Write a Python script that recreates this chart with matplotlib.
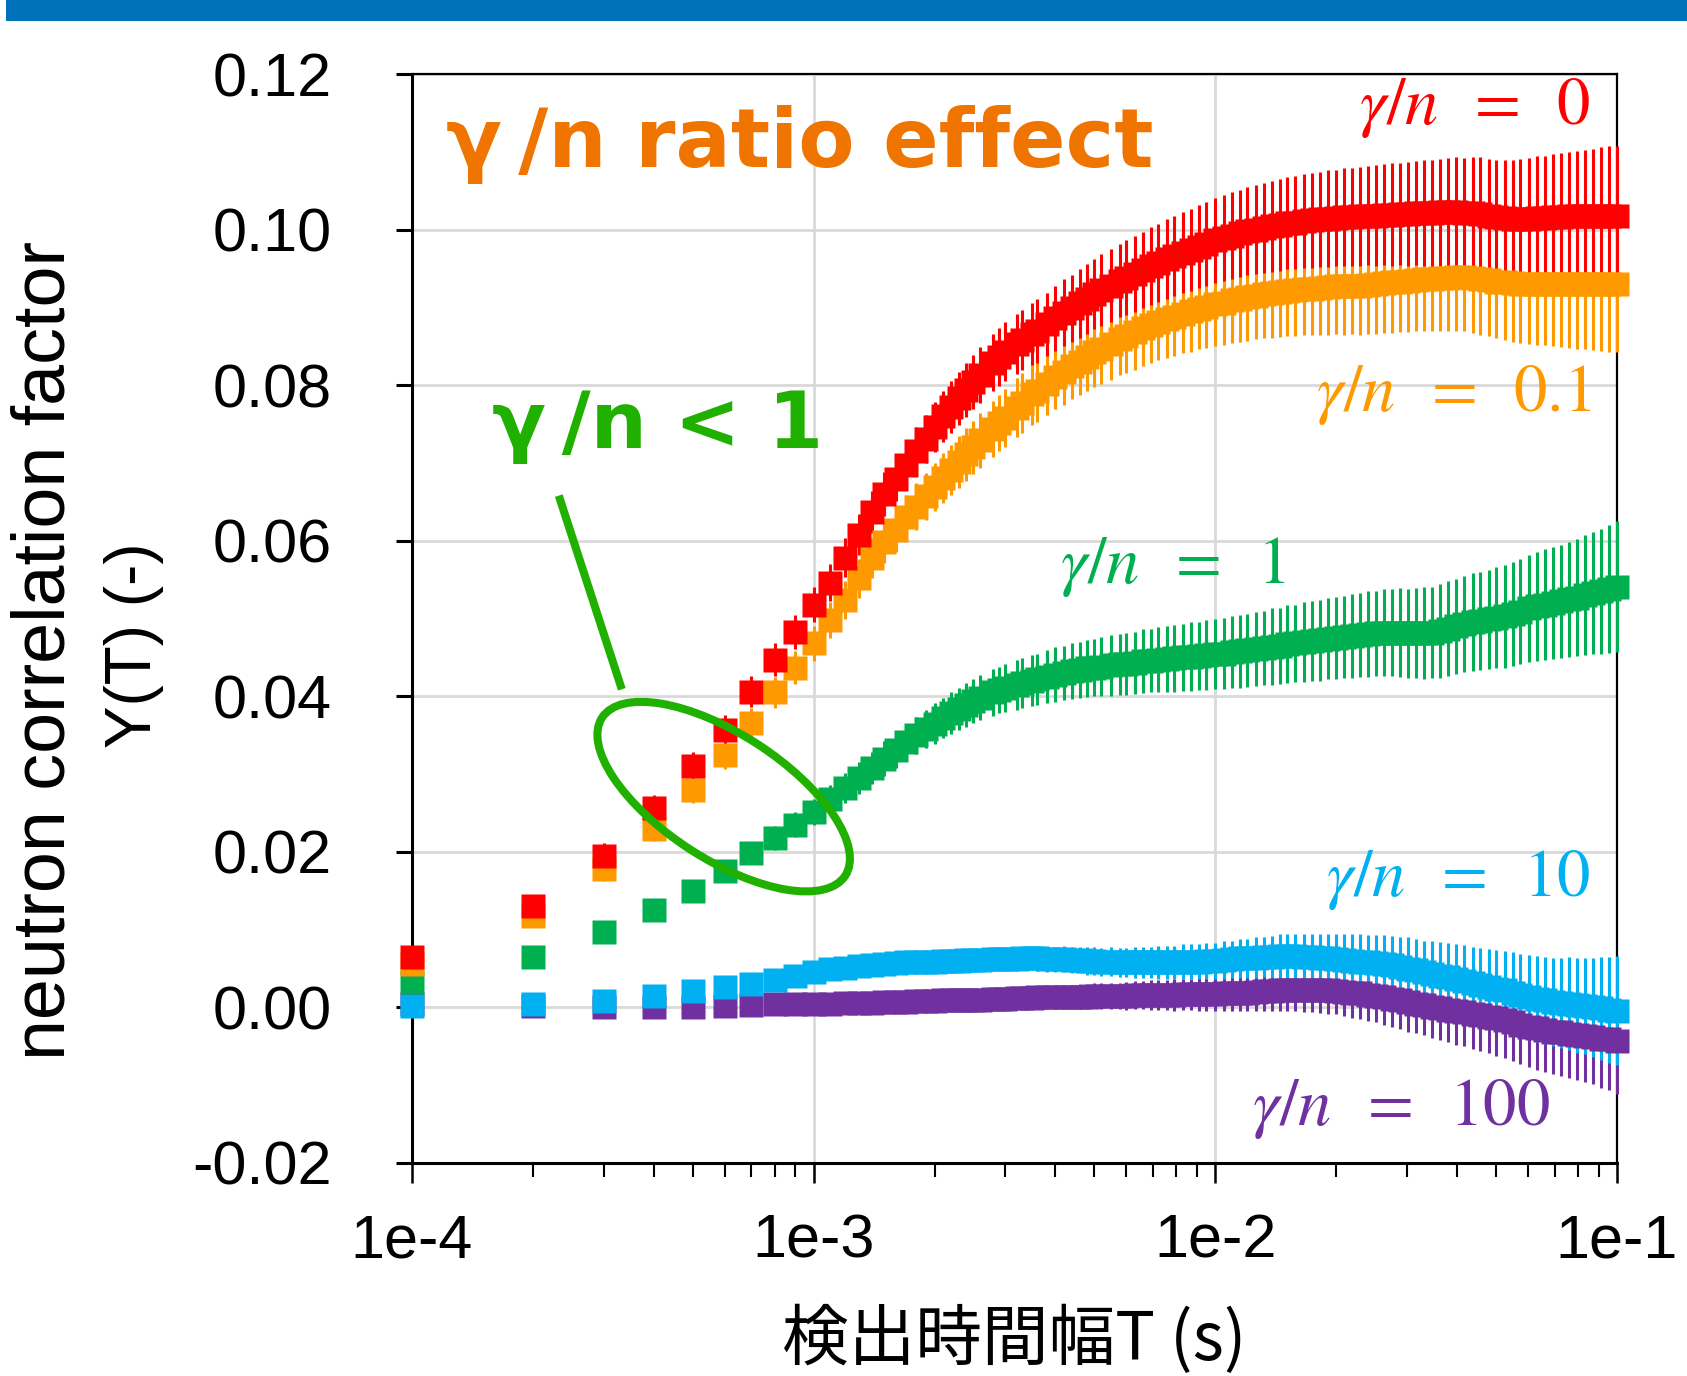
import matplotlib
matplotlib.use("Agg")
import matplotlib.pyplot as plt
from matplotlib.patches import Ellipse, Rectangle
from matplotlib.transforms import ScaledTranslation
from matplotlib.ticker import FixedLocator, LogLocator, NullFormatter

# Detection time width T in ms (converted to s below)
t_ms = [0.1, 0.2, 0.3, 0.4, 0.5, 0.6, 0.7, 0.8, 0.9, 1.0,
        1.1, 1.2, 1.3, 1.4, 1.5, 1.6, 1.7, 1.8, 1.9, 2.0,
        2.1, 2.2, 2.3, 2.4, 2.5, 2.6,
        2.8, 2.9, 3.0, 3.2, 3.3, 3.5, 3.6, 3.8, 4.0,
        4.2, 4.4, 4.6, 4.8, 5.0, 5.2, 5.5, 5.8, 6.0,
        6.3, 6.6, 6.9, 7.2, 7.6, 7.9, 8.3, 8.7, 9.1, 9.5,
        10.0, 10.5, 11.0, 11.5, 12.0, 12.6, 13.2, 13.8, 14.5, 15.1, 15.8, 16.6, 17.4, 18.2, 19.1,
        20.0, 20.9, 21.9, 22.9, 24.0, 25.1, 26.3, 27.5, 28.8, 30.2, 31.6, 33.1, 34.7, 36.3, 38.0,
        39.8, 41.7, 43.7, 45.7, 47.9, 50.1, 52.5, 55.0, 57.5, 60.3, 63.1, 66.1, 69.2, 72.4, 75.9,
        79.4, 83.2, 87.1, 91.2, 95.5, 100.0]

# gamma/n = 0
y_0 = [0.0065, 0.0131, 0.0195, 0.0256, 0.0310, 0.0357, 0.0406, 0.0447, 0.0483, 0.0518,
       0.0546, 0.0578, 0.0608, 0.0637, 0.0660, 0.0680, 0.0698, 0.0715, 0.0731, 0.0746,
       0.0760, 0.0772, 0.0783, 0.0794, 0.0804, 0.0813,
       0.0829, 0.0836, 0.0843, 0.0853, 0.0858, 0.0866, 0.0870, 0.0878, 0.0886,
       0.0893, 0.0899, 0.0905, 0.0911, 0.0917, 0.0922, 0.0928, 0.0934, 0.0938,
       0.0943, 0.0948, 0.0953, 0.0957, 0.0962, 0.0966, 0.0970, 0.0974, 0.0978, 0.0982,
       0.0986, 0.0989, 0.0992, 0.0995, 0.0998, 0.1000, 0.1002, 0.1004, 0.1006, 0.1008, 0.1009, 0.1011, 0.1012, 0.1013, 0.1014,
       0.1015, 0.1016, 0.1016, 0.1017, 0.1018, 0.1018, 0.1019, 0.1019, 0.1020, 0.1020, 0.1021, 0.1021, 0.1021, 0.1022, 0.1022,
       0.1022, 0.1021, 0.1021, 0.1020, 0.1018, 0.1016, 0.1015, 0.1014, 0.1014, 0.1014, 0.1015, 0.1015, 0.1016, 0.1016, 0.1017,
       0.1017, 0.1017, 0.1018, 0.1018, 0.1018, 0.1018]
e_0 = [0.0010, 0.0013, 0.0016, 0.0017, 0.0018, 0.0019, 0.0020, 0.0021, 0.0022, 0.0023,
       0.0024, 0.0025, 0.0026, 0.0027, 0.0028, 0.0029, 0.0030, 0.0031, 0.0031, 0.0032,
       0.0033, 0.0033, 0.0034, 0.0035, 0.0035, 0.0036,
       0.0037, 0.0037, 0.0038, 0.0039, 0.0039, 0.0040, 0.0041, 0.0041, 0.0042,
       0.0043, 0.0043, 0.0044, 0.0045, 0.0045, 0.0046, 0.0047, 0.0047, 0.0048,
       0.0049, 0.0049, 0.0050, 0.0050, 0.0051, 0.0052, 0.0052, 0.0053, 0.0053, 0.0054,
       0.0055, 0.0055, 0.0056, 0.0056, 0.0057, 0.0057, 0.0058, 0.0058, 0.0059, 0.0059, 0.0060, 0.0060, 0.0061, 0.0061, 0.0062,
       0.0062, 0.0063, 0.0063, 0.0064, 0.0064, 0.0065, 0.0065, 0.0066, 0.0066, 0.0067, 0.0067, 0.0068, 0.0069, 0.0069, 0.0070,
       0.0071, 0.0071, 0.0072, 0.0073, 0.0073, 0.0074, 0.0075, 0.0076, 0.0077, 0.0078, 0.0079, 0.0080, 0.0081, 0.0082, 0.0083,
       0.0084, 0.0085, 0.0086, 0.0088, 0.0089, 0.0090]

# gamma/n = 0.1
y_01 = [0.0056, 0.0117, 0.0178, 0.0230, 0.0280, 0.0325, 0.0366, 0.0405, 0.0437, 0.0468,
        0.0498, 0.0524, 0.0552, 0.0578, 0.0598, 0.0614, 0.0630, 0.0644, 0.0657, 0.0669,
        0.0681, 0.0691, 0.0701, 0.0711, 0.0720, 0.0729,
        0.0744, 0.0751, 0.0758, 0.0771, 0.0777, 0.0788, 0.0793, 0.0802, 0.0810,
        0.0817, 0.0824, 0.0830, 0.0836, 0.0842, 0.0847, 0.0853, 0.0859, 0.0863,
        0.0868, 0.0873, 0.0877, 0.0881, 0.0885, 0.0888, 0.0892, 0.0895, 0.0898, 0.0901,
        0.0904, 0.0906, 0.0909, 0.0911, 0.0913, 0.0915, 0.0917, 0.0918, 0.0920, 0.0921, 0.0922, 0.0923, 0.0924, 0.0925, 0.0926,
        0.0927, 0.0927, 0.0928, 0.0928, 0.0929, 0.0930, 0.0931, 0.0932, 0.0933, 0.0934, 0.0935, 0.0936, 0.0937, 0.0938, 0.0938,
        0.0939, 0.0939, 0.0938, 0.0937, 0.0935, 0.0933, 0.0932, 0.0931, 0.0930, 0.0930, 0.0930, 0.0930, 0.0930, 0.0930, 0.0930,
        0.0930, 0.0930, 0.0930, 0.0930, 0.0930, 0.0930]
e_01 = [0.0009, 0.0012, 0.0015, 0.0016, 0.0017, 0.0018, 0.0019, 0.0020, 0.0021, 0.0022,
        0.0023, 0.0024, 0.0025, 0.0026, 0.0027, 0.0028, 0.0029, 0.0030, 0.0030, 0.0031,
        0.0032, 0.0032, 0.0033, 0.0034, 0.0034, 0.0035,
        0.0036, 0.0036, 0.0037, 0.0038, 0.0038, 0.0039, 0.0040, 0.0040, 0.0041,
        0.0042, 0.0042, 0.0043, 0.0044, 0.0044, 0.0045, 0.0046, 0.0046, 0.0047,
        0.0048, 0.0048, 0.0049, 0.0049, 0.0050, 0.0051, 0.0051, 0.0052, 0.0052, 0.0053,
        0.0054, 0.0054, 0.0055, 0.0055, 0.0056, 0.0056, 0.0057, 0.0057, 0.0058, 0.0058, 0.0059, 0.0059, 0.0060, 0.0060, 0.0061,
        0.0061, 0.0062, 0.0062, 0.0063, 0.0063, 0.0064, 0.0064, 0.0065, 0.0065, 0.0066, 0.0066, 0.0067, 0.0068, 0.0068, 0.0069,
        0.0070, 0.0070, 0.0071, 0.0072, 0.0072, 0.0073, 0.0074, 0.0075, 0.0076, 0.0077, 0.0078, 0.0079, 0.0080, 0.0081, 0.0082,
        0.0083, 0.0084, 0.0085, 0.0086, 0.0087, 0.0088]

# gamma/n = 1
y_1 = [0.0033, 0.0065, 0.0097, 0.0125, 0.0150, 0.0175, 0.0198, 0.0218, 0.0235, 0.0251,
       0.0268, 0.0282, 0.0295, 0.0308, 0.0320, 0.0331, 0.0341, 0.0350, 0.0358, 0.0365,
       0.0372, 0.0378, 0.0384, 0.0389, 0.0394, 0.0398,
       0.0405, 0.0408, 0.0411, 0.0415, 0.0417, 0.0420, 0.0422, 0.0425, 0.0428,
       0.0430, 0.0432, 0.0434, 0.0436, 0.0437, 0.0438, 0.0440, 0.0441, 0.0442,
       0.0443, 0.0445, 0.0446, 0.0447, 0.0448, 0.0449, 0.0450, 0.0451, 0.0452, 0.0453,
       0.0454, 0.0455, 0.0457, 0.0458, 0.0459, 0.0461, 0.0462, 0.0464, 0.0465, 0.0467, 0.0468, 0.0470, 0.0471, 0.0472, 0.0474,
       0.0475, 0.0476, 0.0478, 0.0479, 0.0480, 0.0481, 0.0482, 0.0482, 0.0482, 0.0481, 0.0481, 0.0481, 0.0482, 0.0484, 0.0487,
       0.0490, 0.0493, 0.0495, 0.0497, 0.0499, 0.0501, 0.0503, 0.0506, 0.0509, 0.0513, 0.0516, 0.0518, 0.0520, 0.0522, 0.0525,
       0.0527, 0.0530, 0.0533, 0.0535, 0.0538, 0.0541]
e_1 = [0.0008, 0.0009, 0.0010, 0.0011, 0.0012, 0.0013, 0.0014, 0.0015, 0.0016, 0.0017,
       0.0018, 0.0019, 0.0020, 0.0021, 0.0022, 0.0023, 0.0024, 0.0024, 0.0025, 0.0026,
       0.0026, 0.0027, 0.0027, 0.0028, 0.0028, 0.0029,
       0.0030, 0.0030, 0.0031, 0.0032, 0.0032, 0.0033, 0.0033, 0.0034, 0.0035,
       0.0035, 0.0036, 0.0036, 0.0037, 0.0037, 0.0038, 0.0039, 0.0039, 0.0040,
       0.0040, 0.0041, 0.0041, 0.0042, 0.0042, 0.0043, 0.0043, 0.0044, 0.0044, 0.0045,
       0.0045, 0.0046, 0.0046, 0.0047, 0.0047, 0.0048, 0.0048, 0.0049, 0.0049, 0.0050, 0.0050, 0.0051, 0.0051, 0.0052, 0.0052,
       0.0053, 0.0053, 0.0054, 0.0054, 0.0055, 0.0055, 0.0056, 0.0056, 0.0057, 0.0057, 0.0058, 0.0059, 0.0059, 0.0060, 0.0061,
       0.0061, 0.0062, 0.0063, 0.0063, 0.0064, 0.0065, 0.0066, 0.0067, 0.0068, 0.0069, 0.0070, 0.0071, 0.0072, 0.0073, 0.0074,
       0.0075, 0.0077, 0.0078, 0.0080, 0.0082, 0.0084]

# gamma/n = 10
y_10 = [0.0002, 0.0004, 0.0008, 0.0015, 0.0021, 0.0026, 0.0030, 0.0035, 0.0041, 0.0046,
        0.0049, 0.0051, 0.0053, 0.0055, 0.0056, 0.0057, 0.0058, 0.0058, 0.0059, 0.0059,
        0.0060, 0.0060, 0.0060, 0.0061, 0.0061, 0.0061,
        0.0062, 0.0062, 0.0062, 0.0062, 0.0063, 0.0063, 0.0063, 0.0062, 0.0062,
        0.0062, 0.0061, 0.0061, 0.0060, 0.0060, 0.0059, 0.0059, 0.0058, 0.0058,
        0.0058, 0.0058, 0.0058, 0.0058, 0.0058, 0.0058, 0.0059, 0.0059, 0.0059, 0.0060,
        0.0060, 0.0061, 0.0062, 0.0063, 0.0063, 0.0064, 0.0065, 0.0065, 0.0066, 0.0066, 0.0066, 0.0065, 0.0065, 0.0064, 0.0063,
        0.0062, 0.0061, 0.0060, 0.0059, 0.0058, 0.0057, 0.0056, 0.0054, 0.0052, 0.0050, 0.0048, 0.0045, 0.0043, 0.0041, 0.0039,
        0.0036, 0.0034, 0.0031, 0.0029, 0.0026, 0.0024, 0.0022, 0.0019, 0.0016, 0.0013, 0.0011, 0.0009, 0.0007, 0.0006, 0.0005,
        0.0003, 0.0002, 0.0000, -0.0001, -0.0003, -0.0004]
e_10 = [0.0003, 0.0003, 0.0004, 0.0004, 0.0005, 0.0005, 0.0006, 0.0006, 0.0007, 0.0007,
        0.0008, 0.0008, 0.0009, 0.0009, 0.0010, 0.0010, 0.0010, 0.0011, 0.0011, 0.0011,
        0.0012, 0.0012, 0.0012, 0.0013, 0.0013, 0.0013,
        0.0014, 0.0014, 0.0014, 0.0015, 0.0015, 0.0015, 0.0016, 0.0016, 0.0016,
        0.0017, 0.0017, 0.0017, 0.0018, 0.0018, 0.0018, 0.0019, 0.0019, 0.0019,
        0.0020, 0.0020, 0.0020, 0.0021, 0.0021, 0.0021, 0.0022, 0.0022, 0.0022, 0.0023,
        0.0023, 0.0024, 0.0024, 0.0025, 0.0025, 0.0026, 0.0026, 0.0027, 0.0028, 0.0028, 0.0029, 0.0030, 0.0030, 0.0031, 0.0032,
        0.0032, 0.0033, 0.0034, 0.0035, 0.0035, 0.0036, 0.0037, 0.0038, 0.0039, 0.0040, 0.0040, 0.0041, 0.0042, 0.0043, 0.0044,
        0.0045, 0.0046, 0.0047, 0.0048, 0.0049, 0.0050, 0.0051, 0.0052, 0.0053, 0.0054, 0.0055, 0.0056, 0.0057, 0.0058, 0.0060,
        0.0061, 0.0062, 0.0064, 0.0066, 0.0068, 0.0070]

# gamma/n = 100
y_100 = [0.0005, 0.0002, 0.0001, 0.0000, 0.0001, 0.0002, 0.0003, 0.0004, 0.0004, 0.0005,
         0.0005, 0.0006, 0.0006, 0.0006, 0.0007, 0.0007, 0.0007, 0.0008, 0.0008, 0.0008,
         0.0009, 0.0009, 0.0009, 0.0010, 0.0010, 0.0010,
         0.0011, 0.0011, 0.0011, 0.0012, 0.0012, 0.0012, 0.0013, 0.0013, 0.0013,
         0.0014, 0.0014, 0.0014, 0.0014, 0.0015, 0.0015, 0.0015, 0.0015, 0.0015,
         0.0016, 0.0016, 0.0016, 0.0016, 0.0016, 0.0016, 0.0017, 0.0017, 0.0017, 0.0017,
         0.0017, 0.0018, 0.0018, 0.0019, 0.0019, 0.0020, 0.0021, 0.0021, 0.0022, 0.0022, 0.0022, 0.0022, 0.0022, 0.0022, 0.0022,
         0.0021, 0.0020, 0.0019, 0.0018, 0.0016, 0.0015, 0.0013, 0.0011, 0.0009, 0.0007, 0.0005, 0.0003, 0.0001, -0.0001, -0.0003,
         -0.0005, -0.0006, -0.0008, -0.0010, -0.0012, -0.0014, -0.0016, -0.0019, -0.0022, -0.0025, -0.0027, -0.0029, -0.0031, -0.0032, -0.0034,
         -0.0035, -0.0037, -0.0038, -0.0040, -0.0041, -0.0043]
e_100 = [0.0003, 0.0003, 0.0003, 0.0004, 0.0004, 0.0005, 0.0005, 0.0005, 0.0006, 0.0006,
         0.0007, 0.0007, 0.0007, 0.0008, 0.0008, 0.0008, 0.0009, 0.0009, 0.0009, 0.0010,
         0.0010, 0.0010, 0.0011, 0.0011, 0.0011, 0.0012,
         0.0012, 0.0012, 0.0013, 0.0013, 0.0013, 0.0014, 0.0014, 0.0014, 0.0015,
         0.0015, 0.0015, 0.0016, 0.0016, 0.0016, 0.0017, 0.0017, 0.0017, 0.0018,
         0.0018, 0.0018, 0.0019, 0.0019, 0.0019, 0.0020, 0.0020, 0.0020, 0.0021, 0.0021,
         0.0022, 0.0022, 0.0023, 0.0023, 0.0024, 0.0024, 0.0025, 0.0025, 0.0026, 0.0026, 0.0027, 0.0028, 0.0028, 0.0029, 0.0030,
         0.0030, 0.0031, 0.0032, 0.0033, 0.0033, 0.0034, 0.0035, 0.0036, 0.0037, 0.0038, 0.0038, 0.0039, 0.0040, 0.0041, 0.0042,
         0.0043, 0.0044, 0.0045, 0.0046, 0.0047, 0.0048, 0.0049, 0.0050, 0.0051, 0.0052, 0.0053, 0.0054, 0.0055, 0.0056, 0.0057,
         0.0058, 0.0059, 0.0061, 0.0063, 0.0065, 0.0068]

x_ticks = [1e-4, 1e-3, 1e-2, 1e-1]
x_tick_labels = ["1e-4", "1e-3", "1e-2", "1e-1"]
y_ticks = [-0.02, 0.00, 0.02, 0.04, 0.06, 0.08, 0.10, 0.12]
y_tick_labels = ["-0.02", "0.00", "0.02", "0.04", "0.06", "0.08", "0.10", "0.12"]

# drawn bottom to top
series = [
    (y_100, e_100, "#7030A0", r"$\gamma/n\;\;=\;\;100$"),
    (y_10, e_10, "#00B0F0", r"$\gamma/n\;\;=\;\;10$"),
    (y_1, e_1, "#00B050", r"$\gamma/n\;\;=\;\;1$"),
    (y_01, e_01, "#FF9900", r"$\gamma/n\;\;=\;\;0.1$"),
    (y_0, e_0, "#FF0000", r"$\gamma/n\;\;=\;\;0$"),
]
# label anchor (right edge, vertical centre) in axes fraction
label_pos = [(0.944, 0.050), (0.978, 0.260), (0.725, 0.547), (0.979, 0.705), (0.978, 0.969)]

plt.rcParams["font.family"] = ["Liberation Sans", "DejaVu Sans"]
plt.rcParams["mathtext.fontset"] = "stix"

fig = plt.figure(figsize=(16.87, 13.76), dpi=100)
ax = fig.add_axes([0.2442, 0.1548, 0.7143, 0.7914])

t_s = [v * 1e-3 for v in t_ms]
for (y, e, c, lab), (lx, ly) in zip(series, label_pos):
    cont = ax.errorbar(t_s, y, yerr=e, fmt="s", ms=17.5, mec="none", color=c,
                       ecolor=c, elinewidth=2.2, capsize=0, zorder=3)
    cont.lines[0].set_clip_on(False)
    for bc in cont.lines[2]:
        bc.set_clip_on(False)
    ax.text(lx, ly, lab, transform=ax.transAxes, ha="right", va="center",
            fontsize=48, color=c, zorder=5)

ax.set_xscale("log")
ax.set_xlim(1e-4, 1e-1)
ax.set_ylim(-0.02, 0.12)
ax.xaxis.set_major_locator(FixedLocator(x_ticks))
ax.set_xticklabels(x_tick_labels)
ax.xaxis.set_minor_locator(LogLocator(base=10, subs=[2, 3, 4, 5, 6, 7, 8, 9]))
ax.xaxis.set_minor_formatter(NullFormatter())
ax.set_yticks(y_ticks)
ax.set_yticklabels(y_tick_labels)

ax.grid(True, which="major", color="#d9d9d9", lw=2, zorder=0)
ax.set_axisbelow(True)
ax.tick_params(axis="y", which="major", length=11.5, width=2.2, pad=46, labelsize=44)
ax.tick_params(axis="x", which="major", length=14.5, width=1.8, pad=22, labelsize=44)
ax.tick_params(axis="x", which="minor", length=10, width=1.5)
for side in ["left", "bottom"]:
    ax.spines[side].set_linewidth(2.2)
for side in ["top", "right"]:
    ax.spines[side].set_linewidth(1.6)

# annotations
title_orange = "#F07400"
note_green = "#20B000"
ax.text(0.028, 0.9146, "\u03b3\u2009/n ratio effect", transform=ax.transAxes,
        fontsize=59, fontweight="bold", color=title_orange, family="DejaVu Sans",
        va="baseline", ha="left", zorder=6)
ax.text(0.0664, 0.6566, "\u03b3\u2009/n < 1", transform=ax.transAxes,
        fontsize=57, fontweight="bold", color=note_green, family="DejaVu Sans",
        va="baseline", ha="left", zorder=6)
pointer_x = [2.32e-4, 3.33e-4]
pointer_y = [0.0658, 0.0409]
ax.plot(pointer_x, pointer_y, color=note_green, lw=5.8, solid_capstyle="butt",
        zorder=6, clip_on=False)
ell_center = (5.97e-4, 0.0271)
ell = Ellipse((0, 0), width=290, height=125, angle=-33, fill=False,
              edgecolor=note_green, lw=5.8, zorder=6,
              transform=ScaledTranslation(ell_center[0], ell_center[1], ax.transData))
ax.add_artist(ell)

# axis labels
fig.text(0.0267, 0.527, "neutron correlation factor", rotation=90,
         ha="center", va="center", fontsize=53)
fig.text(0.0794, 0.531, "Y(T) (-)", rotation=90, ha="center", va="center", fontsize=46)
fig.text(0.601, 0.026, "検出時間幅T (s)", ha="center", va="center", fontsize=48,
         family=["Noto Sans CJK JP", "DejaVu Sans"])

# blue banner at the top
fig.add_artist(Rectangle((6 / 1687, 1 - 21 / 1376), 1, 21 / 1376,
                         transform=fig.transFigure, color="#0072BB", lw=0))

fig.savefig("out.png", dpi=100)
